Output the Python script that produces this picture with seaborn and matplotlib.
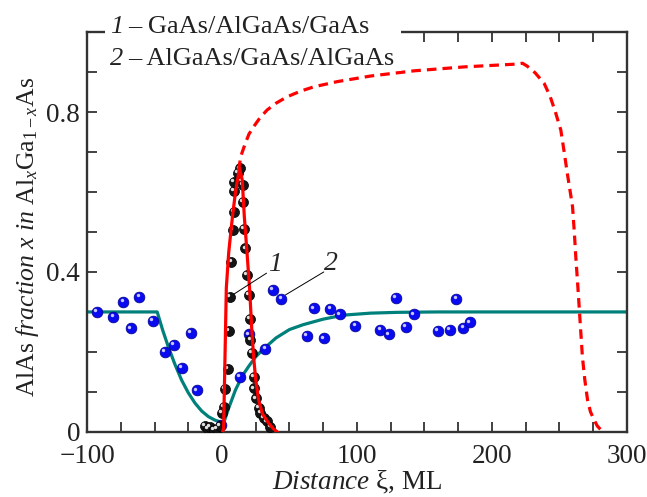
import matplotlib
matplotlib.use("Agg")
import matplotlib.pyplot as plt
import matplotlib.transforms as mtransforms
from matplotlib.patches import Rectangle
from matplotlib.ticker import MultipleLocator
import numpy as np
import pandas as pd
import seaborn as sns

# curve 1 (GaAs/AlGaAs/GaAs), solid red fit
fit1_xi = [0.5, 1.2, 2.0, 3.2, 5.0, 7.8, 10.0, 13.0, 15.0, 16.5, 18.5, 20.5, 22.0, 23.4, 25.0,
           27.1, 30.0, 34.5, 38.0, 41.0]
fit1_x = [0.0, 0.01, 0.15, 0.36, 0.45, 0.54, 0.60, 0.66, 0.63, 0.54, 0.45, 0.355, 0.26, 0.188,
          0.13, 0.08, 0.045, 0.022, 0.008, 0.0]

# dashed red continuation
dash_xi = [12.3, 14.0, 17.3, 20.0, 23.4, 28.0, 33.4, 40.0, 48.2, 58.0, 68.0, 85.3, 110.0,
           142.2, 180.0, 218.8, 222.6, 226.0, 232.0, 238.6, 243.0, 247.0, 251.0, 253.5, 255.8,
           258.0, 259.7, 261.0, 262.1, 263.4, 264.6, 265.8, 267.0, 268.8, 270.8, 273.0, 275.7,
           278.0, 280.7, 283.0]
dash_x = [0.655, 0.69, 0.722, 0.745, 0.763, 0.785, 0.805, 0.822, 0.838, 0.852, 0.863, 0.876,
          0.89, 0.903, 0.913, 0.92, 0.922, 0.915, 0.898, 0.872, 0.84, 0.80, 0.755, 0.70, 0.647,
          0.60, 0.563, 0.50, 0.438, 0.375, 0.313, 0.25, 0.188, 0.13, 0.08, 0.05, 0.03, 0.015,
          0.005, 0.0]

# curve 2 (AlGaAs/GaAs/AlGaAs), teal fit
fit2_xi = [-100, -48, -44, -40, -35, -30, -25, -20, -15, -10, -5, 0, 2, 5, 10, 15, 20, 25, 30,
           40, 50, 60, 75, 90, 110, 130, 160, 200, 300]
fit2_x = [0.30, 0.30, 0.255, 0.215, 0.17, 0.13, 0.098, 0.072, 0.052, 0.038, 0.029, 0.024, 0.03,
          0.06, 0.105, 0.14, 0.165, 0.188, 0.205, 0.235, 0.256, 0.268, 0.282, 0.292, 0.297,
          0.299, 0.30, 0.30, 0.30]

# measured points, sample 1 (black)
pts1_xi = [-12.4, -10.5, -8.7, -6.0, -3.5, -1.5, 0.0, 1.2, 2.4, 4.1, 4.9, 6.1, 6.9, 7.8, 8.6,
           8.6, 8.6, 11.6, 13.0, 15.5, 15.5, 16.0, 17.3, 18.5, 19.7, 20.5, 21.0, 22.2, 23.4,
           23.4, 25.4, 27.1, 28.4, 30.9, 33.4, 35.8]
pts1_x = [0.015, 0.008, 0.013, 0.005, 0.008, 0.015, 0.047, 0.063, 0.107, 0.157, 0.253, 0.337,
          0.426, 0.505, 0.551, 0.603, 0.626, 0.648, 0.659, 0.6175, 0.576, 0.5075, 0.459,
          0.3925, 0.3425, 0.282, 0.23, 0.197, 0.137, 0.109, 0.084, 0.059, 0.047, 0.034, 0.026,
          0.013]

# measured points, sample 2 (blue)
pts2_xi = [-92.8, -80.5, -73.1, -61.2, -67.6, -51.3, -42.1, -35.9, -23.0, -29.7, -18.6, -0.5,
           13.3, 19.7, 32.1, 37.5, 44.0, 68.0, 63.0, 80.3, 75.4, 87.3, 98.9, 117.4, 123.6,
           129.1, 136.0, 142.2, 160.2, 168.6, 173.6, 178.8, 183.7]
pts2_x = [0.30, 0.288, 0.326, 0.338, 0.259, 0.278, 0.201, 0.2175, 0.247, 0.161, 0.104, 0.0175,
          0.137, 0.244, 0.207, 0.355, 0.3325, 0.309, 0.241, 0.3075, 0.234, 0.294, 0.266, 0.255,
          0.244, 0.336, 0.262, 0.294, 0.2525, 0.255, 0.3325, 0.261, 0.274]

legend_nums = ["1", "2"]
legend_names = ["GaAs/AlGaAs/GaAs", "AlGaAs/GaAs/AlGaAs"]

sns.set_theme(style="ticks")
plt.rcParams["font.family"] = ["Liberation Serif", "DejaVu Serif"]
plt.rcParams["mathtext.fontset"] = "custom"
plt.rcParams["mathtext.rm"] = "Liberation Serif"
plt.rcParams["mathtext.it"] = "Liberation Serif:italic"
plt.rcParams["mathtext.bf"] = "Liberation Serif:bold"
plt.rcParams["axes.unicode_minus"] = True

fig = plt.figure(figsize=(6.47, 4.97), dpi=100)
ax = fig.add_axes([0.1345, 0.131, 0.8345, 0.8045])

teal = "#00807a"
sns.lineplot(x=fit2_xi, y=fit2_x, ax=ax, color=teal, linewidth=2.3, zorder=2)

# spheres: dark body plus a small white highlight
hl = ax.transData + mtransforms.ScaledTranslation(-1.3 / 72, 1.3 / 72, fig.dpi_scale_trans)
sns.scatterplot(x=pts2_xi, y=pts2_x, ax=ax, color="#0a0af0", s=60, edgecolor="#00008a",
                linewidth=0.5, zorder=3)
ax.scatter(pts2_xi, pts2_x, s=6, color="#c8c8ff", linewidth=0, zorder=3.1, transform=hl)
sns.scatterplot(x=pts1_xi, y=pts1_x, ax=ax, color="#151515", s=52, edgecolor="black",
                linewidth=0.5, zorder=4)
ax.scatter(pts1_xi, pts1_x, s=6, color="#e0e0e0", linewidth=0, zorder=4.1, transform=hl)

sns.lineplot(x=fit1_xi, y=fit1_x, ax=ax, color="red", linewidth=2.3, zorder=5)
sns.lineplot(x=dash_xi, y=dash_x, ax=ax, color="red", linewidth=2.3, zorder=5,
             linestyle=(0, (3.0, 1.9)))

# curve labels with leader lines
ax.plot([9, 33], [0.345, 0.397], color="black", lw=0.7, zorder=6)
ax.plot([47, 75.4], [0.3425, 0.40], color="black", lw=0.7, zorder=6)
ax.text(39.5, 0.418, "1", fontsize=20, style="italic", ha="center", va="center")
ax.text(80.8, 0.42, "2", fontsize=20, style="italic", ha="center", va="center")

ax.set_xlim(-100, 300)
ax.set_ylim(0, 1.0)
ax.xaxis.set_major_locator(MultipleLocator(100))
ax.xaxis.set_minor_locator(MultipleLocator(25))
ax.yaxis.set_major_locator(MultipleLocator(0.4))
ax.yaxis.set_minor_locator(MultipleLocator(0.1))
ax.yaxis.set_major_formatter(plt.FuncFormatter(lambda v, p: "0" if v == 0 else f"{v:.1f}"))
ax.tick_params(which="both", direction="in", top=True, right=True, length=7, width=1.3,
               color="#333333", labelsize=19.5, labelcolor="#222222")
ax.tick_params(axis="x", pad=9)
ax.tick_params(axis="y", pad=5)
for sp in ax.spines.values():
    sp.set_linewidth(1.7)
    sp.set_color("#333333")

ax.set_xlabel(r"$\it{Distance}$ ξ, ML", fontsize=19.5, color="#222222", labelpad=0)
ax.set_ylabel(r"AlAs $\it{fraction\ x\ in}$ Al$_x$Ga$_{1-x}$As", fontsize=18.5,
              color="#222222")
ax.yaxis.set_label_coords(-0.085, 0.4875)

# legend block: white box over the top spine, italic curve numbers
fig.add_artist(Rectangle((105 / 647, 1 - 71 / 497), 296 / 647, 63 / 497,
                         transform=fig.transFigure, facecolor="white", edgecolor="none",
                         zorder=5))
for i, (num, name) in enumerate(zip(legend_nums, legend_names)):
    yb = 1 - (33 + 32 * i) / 497
    fig.text(110 / 647, yb, num, fontsize=19, style="italic", color="#222222",
             va="baseline", ha="left", zorder=6)
    fig.text(128 / 647, yb, "– " + name, fontsize=19, color="#222222",
             va="baseline", ha="left", zorder=6)

fig.savefig("out.png", dpi=100)
